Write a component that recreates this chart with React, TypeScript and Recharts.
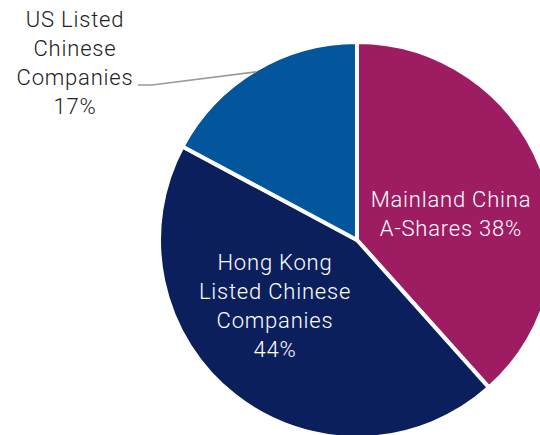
import { PieChart, Pie, Cell } from "recharts";

const names = ["Mainland China A-Shares", "Hong Kong Listed Chinese Companies", "US Listed Chinese Companies"];
const values = [38, 44, 17];
const labelText = [
  ["Mainland China", "A-Shares 38%"],
  ["Hong Kong", "Listed Chinese", "Companies", "44%"],
  ["US Listed", "Chinese", "Companies", "17%"],
];

const COLORS = ["#9E1D62", "#0A1F5C", "#03559C"];
// label centre offsets from the pie centre, per slice
const LABEL_OFFSET = [
  { dx: 94, dy: -27, fill: "#ffffff" },
  { dx: -82, dy: 65, fill: "#ffffff" },
  { dx: -282, dy: -178, fill: "#222222" },
];
const FONT = "Roboto, 'DejaVu Sans', sans-serif";
const LINE_H = 29;

const data = names.map((name, i) => ({ name, value: values[i] }));

const RAD = Math.PI / 180;

function renderLabel(props: any) {
  const { cx, cy, index } = props;
  const off = LABEL_OFFSET[index];
  const lines = labelText[index];
  const x = cx + off.dx;
  const y0 = cy + off.dy - ((lines.length - 1) / 2) * LINE_H + 8;
  return (
    <text
      key={`lbl-${index}`}
      x={x}
      y={y0}
      textAnchor="middle"
      fill={off.fill}
      fontFamily={FONT}
      fontWeight={300}
      fontSize={22}
      letterSpacing={0.8}
    >
      {lines.map((t, k) => (
        <tspan key={k} x={x} dy={k === 0 ? 0 : LINE_H}>
          {t}
        </tspan>
      ))}
    </text>
  );
}

function renderLine(props: any) {
  const { cx, cy, midAngle, outerRadius, index } = props;
  if (index !== 2) return <g key={`ln-${index}`} />;
  const r = outerRadius - 2;
  const sx = cx + r * Math.cos(-midAngle * RAD);
  const sy = cy + r * Math.sin(-midAngle * RAD);
  const ey = cy - 155;
  return (
    <polyline
      key={`ln-${index}`}
      points={`${sx},${sy} ${cx - 205},${ey} ${cx - 219},${ey}`}
      fill="none"
      stroke="#9a9a9a"
      strokeWidth={1.5}
    />
  );
}

export default function App() {
  return (
    <div style={{ position: "absolute", left: 0, top: 0, width: 540, height: 435, background: "#fff" }}>
      <PieChart width={540} height={435} margin={{ top: 0, right: 0, bottom: 0, left: 0 }}>
        <Pie
          data={data}
          dataKey="value"
          nameKey="name"
          cx={357}
          cy={240}
          outerRadius={198}
          startAngle={90}
          endAngle={-270}
          stroke="#ffffff"
          strokeWidth={4}
          label={renderLabel}
          labelLine={renderLine}
          isAnimationActive={false}
        >
          {data.map((entry, index) => (
            <Cell key={`cell-${index}`} fill={COLORS[index]} />
          ))}
        </Pie>
      </PieChart>
    </div>
  );
}
